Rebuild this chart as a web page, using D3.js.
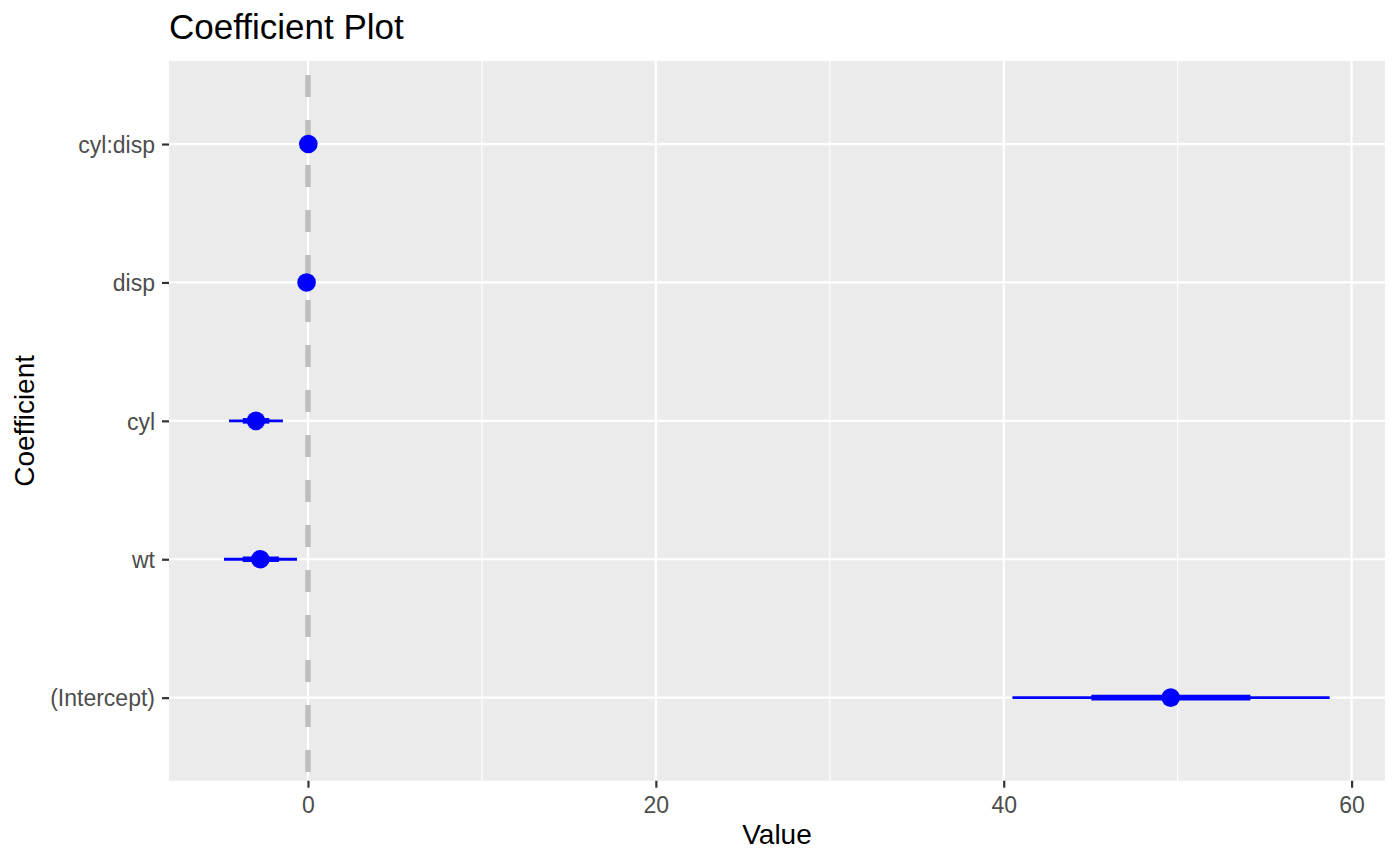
<!DOCTYPE html>
<html><head><meta charset="utf-8">
<script src="https://d3js.org/d3.v7.min.js"></script>
<style>body{margin:0;background:#fff;} text{font-family:"Liberation Sans",Arial,sans-serif;}</style>
</head><body>
<svg id="c" width="1400" height="865"></svg>
<script>
const coefficients = ["(Intercept)", "wt", "cyl", "disp", "cyl:disp"];
const estimates   = [49.6, -2.74, -2.99, -0.08, 0.02];
const innerLow    = [45.04, -3.75, -3.75, -0.10, 0.01];
const innerHigh   = [54.18, -1.67, -2.22, -0.06, 0.03];
const outerLow    = [40.5, -4.83, -4.54, -0.12, 0.00];
const outerHigh   = [58.74, -0.63, -1.44, -0.04, 0.04];
const xTicks = [0, 20, 40, 60];
const xMinor = [10, 30, 50];

const svg = d3.select("#c");
const L = 169, R = 1385, T = 61, B = 780.7;
const x = d3.scaleLinear().domain([-7.99, 61.92]).range([L, R]);
// discrete scale with 0.6 expansion
const yIdx = d3.scaleLinear().domain([0.4, 5.6]).range([B, T]);
const y = c => yIdx(coefficients.indexOf(c) + 1);

svg.append("rect").attr("x", L).attr("y", T).attr("width", R - L).attr("height", B - T).attr("fill", "#ebebeb");

// minor grid
svg.append("g").selectAll("line").data(xMinor).join("line")
  .attr("x1", d => x(d)).attr("x2", d => x(d)).attr("y1", T).attr("y2", B)
  .attr("stroke", "#fff").attr("stroke-width", 1.1);
// major grid
svg.append("g").selectAll("line").data(xTicks).join("line")
  .attr("x1", d => x(d)).attr("x2", d => x(d)).attr("y1", T).attr("y2", B)
  .attr("stroke", "#fff").attr("stroke-width", 2.2);
svg.append("g").selectAll("line").data(coefficients).join("line")
  .attr("x1", L).attr("x2", R).attr("y1", d => y(d)).attr("y2", d => y(d))
  .attr("stroke", "#fff").attr("stroke-width", 2.2);

// zero line
svg.append("line").attr("x1", x(0)).attr("x2", x(0)).attr("y1", T).attr("y2", B)
  .attr("stroke", "#bebebe").attr("stroke-width", 5.5).attr("stroke-dasharray", "22,23")
  .attr("stroke-dashoffset", -14);

const data = coefficients.map((c, i) => ({c, est: estimates[i], il: innerLow[i], ih: innerHigh[i], ol: outerLow[i], oh: outerHigh[i]}));
const g = svg.append("g");
g.selectAll("line.outer").data(data).join("line").attr("class", "outer")
  .attr("x1", d => x(d.ol)).attr("x2", d => x(d.oh)).attr("y1", d => y(d.c)).attr("y2", d => y(d.c))
  .attr("stroke", "#0000ff").attr("stroke-width", 2.8);
g.selectAll("line.inner").data(data).join("line").attr("class", "inner")
  .attr("x1", d => x(d.il)).attr("x2", d => x(d.ih)).attr("y1", d => y(d.c)).attr("y2", d => y(d.c))
  .attr("stroke", "#0000ff").attr("stroke-width", 5.6);
g.selectAll("circle").data(data).join("circle")
  .attr("cx", d => x(d.est)).attr("cy", d => y(d.c)).attr("r", 9.3).attr("fill", "#0000ff");

// axes
const xAxis = svg.append("g").attr("transform", `translate(0,${B})`)
  .call(d3.axisBottom(x).tickValues(xTicks).tickSize(7).tickPadding(4).tickFormat(d3.format("d")));
const yAxis = svg.append("g").attr("transform", `translate(${L},0)`)
  .call(d3.axisLeft(yIdx).tickValues([1,2,3,4,5]).tickSize(7).tickPadding(7).tickFormat(d => coefficients[d - 1]));
[xAxis, yAxis].forEach(a => {
  a.select(".domain").remove();
  a.selectAll(".tick line").attr("stroke", "#333333").attr("stroke-width", 2.2);
  a.selectAll(".tick text").attr("fill", "#4d4d4d").style("font-size", "23px").style("font-family", "Liberation Sans, Arial, sans-serif");
});
xAxis.selectAll(".tick text").attr("y", 813 - B).attr("dy", 0);
yAxis.selectAll(".tick text").attr("dy", "0.36em");

svg.append("text").attr("x", L).attr("y", 39).text("Coefficient Plot")
  .style("font-size", "35px").attr("fill", "#000");
svg.append("text").attr("x", (L + R) / 2).attr("y", 844).attr("text-anchor", "middle").text("Value")
  .style("font-size", "28px").attr("fill", "#000");
svg.append("text").attr("transform", `translate(34,${(T + B) / 2}) rotate(-90)`).attr("text-anchor", "middle").text("Coefficient")
  .style("font-size", "28px").attr("fill", "#000");
</script>
</body></html>
